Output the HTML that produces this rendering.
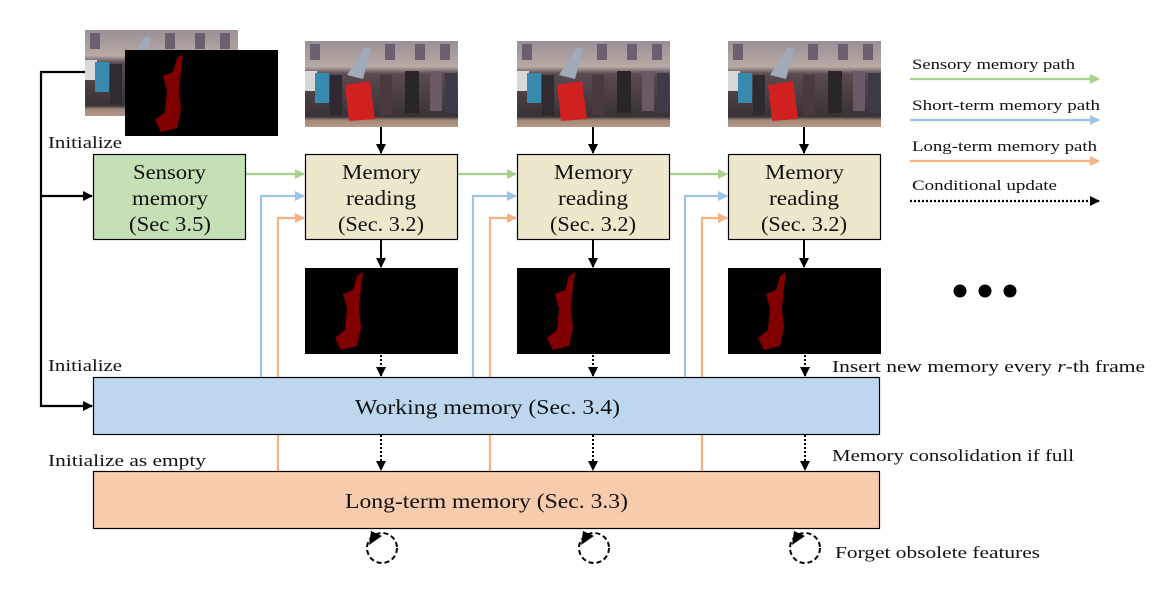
<!DOCTYPE html>
<html><head><meta charset="utf-8"><style>
html,body{margin:0;padding:0;background:#fff;}
svg{display:block;}
text{font-family:"Liberation Serif",serif;fill:#111;}
</style></head><body>
<svg width="1168" height="589" viewBox="0 0 1168 589" xmlns="http://www.w3.org/2000/svg">
<defs>
<marker id="ak" markerWidth="10" markerHeight="10" refX="9" refY="5" orient="auto" markerUnits="userSpaceOnUse"><path d="M0,0 L10,5 L0,10 Z" fill="#000"/></marker>
<marker id="ag" markerWidth="10" markerHeight="10" refX="9" refY="5" orient="auto" markerUnits="userSpaceOnUse"><path d="M0,0 L10,5 L0,10 Z" fill="#a9d18e"/></marker>
<marker id="ab" markerWidth="10" markerHeight="10" refX="9" refY="5" orient="auto" markerUnits="userSpaceOnUse"><path d="M0,0 L10,5 L0,10 Z" fill="#9dc3e6"/></marker>
<marker id="ao" markerWidth="10" markerHeight="10" refX="9" refY="5" orient="auto" markerUnits="userSpaceOnUse"><path d="M0,0 L10,5 L0,10 Z" fill="#f4b183"/></marker>
<linearGradient id="sky" x1="0" y1="0" x2="0" y2="1">
<stop offset="0" stop-color="#9a8f96"/><stop offset="0.3" stop-color="#b8aaa4"/><stop offset="0.38" stop-color="#5a4c50"/><stop offset="0.88" stop-color="#3a3238"/><stop offset="0.92" stop-color="#a08878"/><stop offset="1" stop-color="#b89888"/>
</linearGradient>
<g id="photo">
<rect width="153" height="86" fill="url(#sky)"/>
<rect x="5" y="3" width="10" height="16" fill="#6a6070"/><rect x="80" y="3" width="10" height="16" fill="#6a6070"/><rect x="110" y="3" width="10" height="16" fill="#6a6070"/><rect x="135" y="3" width="10" height="16" fill="#6a6070"/>
<rect x="0" y="30" width="12" height="20" fill="#d8d8d8"/>
<rect x="10" y="32" width="14" height="30" fill="#3a8ab0"/>
<rect x="25" y="34" width="12" height="40" fill="#2e2a30"/>
<rect x="75" y="34" width="12" height="40" fill="#4a3a3e"/>
<rect x="100" y="30" width="14" height="42" fill="#2a2628"/>
<rect x="125" y="30" width="12" height="40" fill="#6a5a68"/>
<rect x="140" y="32" width="12" height="40" fill="#3e3a48"/>
<path d="M42,34 L60,6 L66,8 L58,38 Z" fill="#a0aab8"/>
<path d="M40,44 L65,40 L70,78 L44,80 Z" fill="#d02020"/>
</g>
<g id="mask">
<rect width="153" height="86" fill="#000"/>
<path d="M52,8 L58,4 L56,20 L54,40 L56,60 L52,78 L36,82 L30,70 L40,62 L42,40 L38,26 L48,22 Z" fill="#800000"/>
</g>
</defs>

<use href="#photo" x="85" y="30"/>
<use href="#mask" x="125" y="50"/>
<use href="#photo" x="305" y="41"/>
<use href="#photo" x="517" y="41"/>
<use href="#photo" x="728" y="41"/>
<use href="#mask" x="305" y="268"/>
<use href="#mask" x="517" y="268"/>
<use href="#mask" x="728" y="268"/>

<polyline points="85,72 41,72 41,406 92,406" fill="none" stroke="#000" stroke-width="2.2" marker-end="url(#ak)"/>
<line x1="41" y1="196" x2="92" y2="196" stroke="#000" stroke-width="2.2" marker-end="url(#ak)"/>

<g fill="none" stroke-width="2.2">
<polyline points="261,377 261,196 304,196" stroke="#9dc3e6" marker-end="url(#ab)"/>
<polyline points="473,377 473,196 516,196" stroke="#9dc3e6" marker-end="url(#ab)"/>
<polyline points="685,377 685,196 727,196" stroke="#9dc3e6" marker-end="url(#ab)"/>
<polyline points="278,471 278,218 304,218" stroke="#f4b183" marker-end="url(#ao)"/>
<polyline points="490,471 490,218 516,218" stroke="#f4b183" marker-end="url(#ao)"/>
<polyline points="702,471 702,218 727,218" stroke="#f4b183" marker-end="url(#ao)"/>
<line x1="246" y1="174" x2="304" y2="174" stroke="#a9d18e" marker-end="url(#ag)"/>
<line x1="458" y1="174" x2="516" y2="174" stroke="#a9d18e" marker-end="url(#ag)"/>
<line x1="670" y1="174" x2="727" y2="174" stroke="#a9d18e" marker-end="url(#ag)"/>
</g>

<rect x="93.5" y="154.5" width="152" height="85" fill="#c5e0b4" stroke="#000" stroke-width="1.2"/>
<rect x="305.5" y="154.5" width="152" height="85" fill="#ede7cc" stroke="#000" stroke-width="1.2"/>
<rect x="517.5" y="154.5" width="152" height="85" fill="#ede7cc" stroke="#000" stroke-width="1.2"/>
<rect x="728.5" y="154.5" width="152" height="85" fill="#ede7cc" stroke="#000" stroke-width="1.2"/>
<rect x="93.5" y="377.5" width="786" height="57" fill="#bdd7ee" stroke="#000" stroke-width="1.2"/>
<rect x="93.5" y="471.5" width="786" height="57" fill="#f7cbac" stroke="#000" stroke-width="1.2"/>

<g font-size="21" lengthAdjust="spacingAndGlyphs">
<text x="133" y="179" textLength="73" lengthAdjust="spacingAndGlyphs">Sensory</text>
<text x="132" y="205" textLength="76" lengthAdjust="spacingAndGlyphs">memory</text>
<text x="129" y="231" textLength="82" lengthAdjust="spacingAndGlyphs">(Sec 3.5)</text>
<text x="342" y="179" textLength="79" lengthAdjust="spacingAndGlyphs">Memory</text>
<text x="346" y="205" textLength="70" lengthAdjust="spacingAndGlyphs">reading</text>
<text x="338" y="231" textLength="86" lengthAdjust="spacingAndGlyphs">(Sec. 3.2)</text>
<text x="554" y="179" textLength="79" lengthAdjust="spacingAndGlyphs">Memory</text>
<text x="558" y="205" textLength="70" lengthAdjust="spacingAndGlyphs">reading</text>
<text x="550" y="231" textLength="86" lengthAdjust="spacingAndGlyphs">(Sec. 3.2)</text>
<text x="765" y="179" textLength="79" lengthAdjust="spacingAndGlyphs">Memory</text>
<text x="769" y="205" textLength="70" lengthAdjust="spacingAndGlyphs">reading</text>
<text x="761" y="231" textLength="86" lengthAdjust="spacingAndGlyphs">(Sec. 3.2)</text>
<text x="355" y="414" textLength="265" lengthAdjust="spacingAndGlyphs">Working memory (Sec. 3.4)</text>
<text x="345" y="508" textLength="283" lengthAdjust="spacingAndGlyphs">Long-term memory (Sec. 3.3)</text>
</g>

<g stroke="#000" stroke-width="2">
<line x1="381" y1="127" x2="381" y2="153" marker-end="url(#ak)"/>
<line x1="593" y1="127" x2="593" y2="153" marker-end="url(#ak)"/>
<line x1="804" y1="127" x2="804" y2="153" marker-end="url(#ak)"/>
<line x1="381" y1="240" x2="381" y2="267" marker-end="url(#ak)"/>
<line x1="593" y1="240" x2="593" y2="267" marker-end="url(#ak)"/>
<line x1="804" y1="240" x2="804" y2="267" marker-end="url(#ak)"/>
</g>
<g stroke="#000" stroke-width="2" stroke-dasharray="2,2">
<line x1="381" y1="355" x2="381" y2="376" marker-end="url(#ak)"/>
<line x1="593" y1="355" x2="593" y2="376" marker-end="url(#ak)"/>
<line x1="805" y1="355" x2="805" y2="376" marker-end="url(#ak)"/>
<line x1="381" y1="435" x2="381" y2="470" marker-end="url(#ak)"/>
<line x1="593" y1="435" x2="593" y2="470" marker-end="url(#ak)"/>
<line x1="805" y1="435" x2="805" y2="470" marker-end="url(#ak)"/>
</g>

<g fill="none" stroke="#000" stroke-width="2" stroke-dasharray="5,3">
<circle cx="382" cy="548" r="15"/>
<circle cx="594" cy="548" r="15"/>
<circle cx="805" cy="548" r="15"/>
</g>
<g fill="#000">
<path d="M369,545 L371,531 L382,536 Z"/>
<path d="M581,545 L583,531 L594,536 Z"/>
<path d="M792,545 L794,531 L805,536 Z"/>
</g>

<g font-size="17">
<text x="48" y="148" textLength="74" lengthAdjust="spacingAndGlyphs">Initialize</text>
<text x="48" y="371" textLength="74" lengthAdjust="spacingAndGlyphs">Initialize</text>
<text x="48" y="466" textLength="158" lengthAdjust="spacingAndGlyphs">Initialize as empty</text>
<text x="832" y="372" textLength="313" lengthAdjust="spacingAndGlyphs">Insert new memory every <tspan font-style="italic">r</tspan>-th frame</text>
<text x="832" y="461" textLength="242" lengthAdjust="spacingAndGlyphs">Memory consolidation if full</text>
<text x="835" y="558" textLength="205" lengthAdjust="spacingAndGlyphs">Forget obsolete features</text>
</g>

<circle cx="960" cy="291" r="6.5" fill="#000"/>
<circle cx="985" cy="291" r="6.5" fill="#000"/>
<circle cx="1010" cy="291" r="6.5" fill="#000"/>

<g font-size="15">
<text x="912" y="69" textLength="163" lengthAdjust="spacingAndGlyphs">Sensory memory path</text>
<text x="912" y="110" textLength="188" lengthAdjust="spacingAndGlyphs">Short-term memory path</text>
<text x="912" y="151" textLength="185" lengthAdjust="spacingAndGlyphs">Long-term memory path</text>
<text x="912" y="190" textLength="145" lengthAdjust="spacingAndGlyphs">Conditional update</text>
</g>
<g stroke-width="2.2">
<line x1="910" y1="79" x2="1099" y2="79" stroke="#a9d18e" marker-end="url(#ag)"/>
<line x1="910" y1="120" x2="1099" y2="120" stroke="#9dc3e6" marker-end="url(#ab)"/>
<line x1="910" y1="161" x2="1099" y2="161" stroke="#f4b183" marker-end="url(#ao)"/>
<line x1="910" y1="201" x2="1099" y2="201" stroke="#000" stroke-dasharray="2,2" marker-end="url(#ak)"/>
</g>
</svg>
</body></html>
